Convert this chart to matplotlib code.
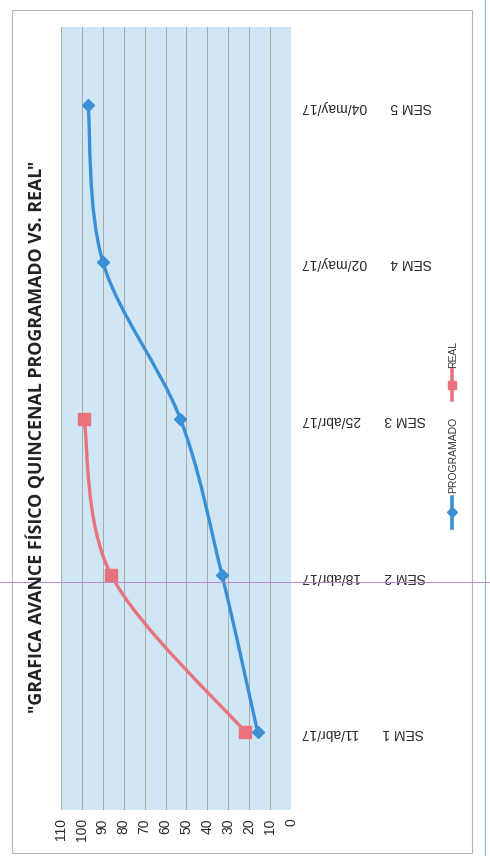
import numpy as np
import matplotlib
matplotlib.use('Agg')
import matplotlib.pyplot as plt
from matplotlib.path import Path
from matplotlib.patches import PathPatch, Rectangle
from matplotlib.lines import Line2D

plt.rcParams['font.family'] = ['Liberation Sans', 'DejaVu Sans']

# datos (la hoja escaneada esta girada 90 grados)
semanas = ['SEM 1', 'SEM 2', 'SEM 3', 'SEM 4', 'SEM 5']
fechas = ['11/abr/17', '18/abr/17', '25/abr/17', '02/may/17', '04/may/17']
programado = [16, 33, 53, 90, 97]
real = [22, 86, 99]
titulo = '"GRAFICA AVANCE FÍSICO QUINCENAL PROGRAMADO VS. REAL"'

azul = '#3b8fd4'
rojo = '#e8737c'


def curva_suave(xs, ys, t=1/6.):
    # bezier tipo catmull-rom, como la linea suavizada de excel
    pts = np.column_stack([xs, ys]).astype(float)
    n = len(pts)
    verts = [pts[0]]
    codes = [Path.MOVETO]
    for i in range(n - 1):
        p0 = pts[max(i - 1, 0)]
        p1 = pts[i]
        p2 = pts[i + 1]
        p3 = pts[min(i + 2, n - 1)]
        c1 = p1 + (p2 - p0) * t
        c2 = p2 - (p3 - p1) * t
        verts += [c1, c2, p2]
        codes += [Path.CURVE4] * 3
    return Path(verts, codes)


fig = plt.figure(figsize=(4.9, 8.56), dpi=100)
fig.patch.set_facecolor('white')

# marco del grafico
fig.patches.append(Rectangle((12/490, 1-853/856), (472-12)/490, (853-10)/856,
                             transform=fig.transFigure, fill=False,
                             edgecolor='#b5b5b5', lw=0.8))

ax = fig.add_axes([61/490, 1-810/856, (291-61)/490, (810-27)/856])
ax.set_facecolor('#d0e6f5')
pos = np.arange(1, len(semanas) + 1)

ax.set_xlim(110, 0)
ax.set_ylim(0.5, len(semanas) + 0.5)
ax.set_xticks(np.arange(0, 111, 10))
ax.xaxis.grid(True, color='#a8a8a8', lw=0.7)
ax.set_axisbelow(True)
for s in ax.spines.values():
    s.set_visible(False)
ax.tick_params(axis='x', length=0, pad=6, labelsize=10, labelrotation=90,
               labelcolor='#2a2a2a')
ax.tick_params(axis='y', length=0, pad=8, labelsize=10, labelcolor='#2a2a2a',
               left=False, labelleft=False, right=True, labelright=True)
ax.set_yticks(pos)
ax.set_yticklabels([s + '      ' + f for s, f in zip(semanas, fechas)],
                   rotation=180)

# series
for vals, col, mk, ms in [(programado, azul, 'D', 6), (real, rojo, 's', 8)]:
    yy = pos[:len(vals)]
    ax.add_patch(PathPatch(curva_suave(vals, yy), fill=False, edgecolor=col,
                           lw=2.4, capstyle='round', zorder=3))
    ax.plot(vals, yy, ls='none', marker=mk, ms=ms, color=col, zorder=4)

# titulo
fig.text(36/490, 1-437/856, titulo, rotation=90, ha='center', va='center',
         fontsize=12.8, fontweight='bold', color='#222222',
         family=['Open Sans', 'DejaVu Sans'])

# leyenda (girada)
for y0, y1, ym, col, mk, ms, lab, ty in [
        (497, 528, 512, azul, 'D', 5, 'PROGRAMADO', 493),
        (370, 400, 385, rojo, 's', 6, 'REAL', 368)]:
    fig.add_artist(Line2D([452/490, 452/490], [1-y0/856, 1-y1/856],
                          transform=fig.transFigure, color=col, lw=2.6))
    fig.add_artist(Line2D([452/490], [1-ym/856], transform=fig.transFigure,
                          marker=mk, ms=ms, color=col, ls='none'))
    fig.text(453/490, 1-ty/856, lab, rotation=90, ha='center', va='bottom',
             fontsize=7.5, color='#333333')

# lineas del escaneo
fig.add_artist(Line2D([0, 1], [1-582/856, 1-582/856], transform=fig.transFigure,
                      color='#b58ad0', lw=0.7))
fig.add_artist(Line2D([485/490, 485/490], [0, 1], transform=fig.transFigure,
                      color='#7fb2dc', lw=0.8))

fig.savefig('out.png', dpi=100)
